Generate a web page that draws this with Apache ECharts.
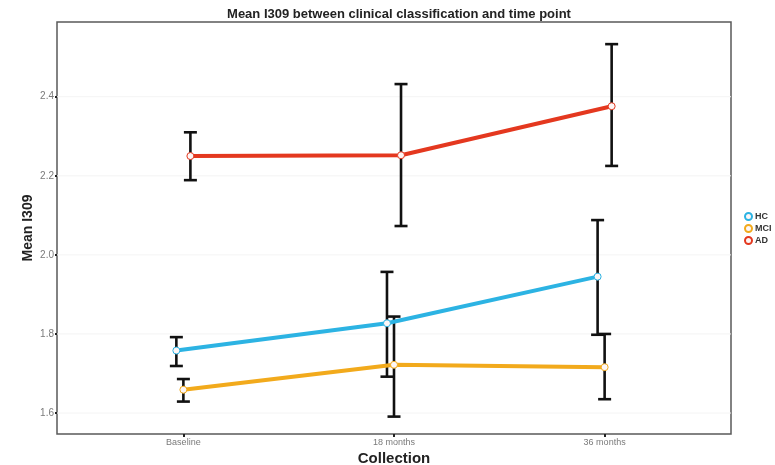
<!DOCTYPE html>
<html>
<head>
<meta charset="utf-8">
<script src="https://cdn.jsdelivr.net/npm/echarts@6/dist/echarts.min.js"></script>
<style>
  html, body { margin: 0; padding: 0; background: #fff; }
  #chart { width: 775px; height: 465px; }
</style>
</head>
<body>
<div id="chart"></div>
<script>
// Time points and clinical groups
const categories = ['Baseline', '18 months', '36 months'];
const groups = ['HC', 'MCI', 'AD'];

// Mean I309 with lower / upper error limits, per group and time point
const hcMean = [1.758, 1.827, 1.945];
const hcLow = [1.719, 1.692, 1.798];
const hcHigh = [1.792, 1.957, 2.088];

const mciMean = [1.659, 1.722, 1.716];
const mciLow = [1.629, 1.591, 1.635];
const mciHigh = [1.686, 1.844, 1.800];

const adMean = [2.250, 2.252, 2.376];
const adLow = [2.189, 2.073, 2.225];
const adHigh = [2.310, 2.432, 2.533];

// Y axis tick labels
const yTicks = [1.6, 1.8, 2.0, 2.2, 2.4];

const colors = { HC: '#2cb3e3', MCI: '#f2aa1c', AD: '#e4381f' };

// Groups are dodged side by side within each time point
const dodgeWidth = 0.1;
const dodge = { HC: -dodgeWidth / 3, MCI: 0, AD: dodgeWidth / 3 };

const stats = {
  HC: { mean: hcMean, low: hcLow, high: hcHigh },
  MCI: { mean: mciMean, low: mciLow, high: mciHigh },
  AD: { mean: adMean, low: adLow, high: adHigh }
};

const series = [];

// Faint horizontal guides at the y ticks
series.push({
  type: 'custom',
  name: 'guides',
  silent: true,
  z: 0,
  data: yTicks.map(v => [v]),
  renderItem: function (params, api) {
    const cs = params.coordSys;
    const p = api.coord([0, api.value(0)]);
    return {
      type: 'line',
      shape: { x1: cs.x, y1: p[1], x2: cs.x + cs.width, y2: p[1] },
      style: { stroke: '#f4f4f4', lineWidth: 1 }
    };
  },
  encode: { y: 0 }
});

// Error bars (drawn beneath the lines)
groups.forEach(g => {
  const s = stats[g];
  series.push({
    type: 'custom',
    name: g + ' error',
    z: 2,
    silent: true,
    data: categories.map((c, i) => [i + dodge[g], s.low[i], s.high[i]]),
    renderItem: function (params, api) {
      const x = api.value(0);
      const lo = api.coord([x, api.value(1)]);
      const hi = api.coord([x, api.value(2)]);
      const cap = 6.5;
      const style = { stroke: '#111', lineWidth: 2.6 };
      return {
        type: 'group',
        children: [
          { type: 'line', shape: { x1: lo[0], y1: lo[1], x2: hi[0], y2: hi[1] }, style: style },
          { type: 'line', shape: { x1: hi[0] - cap, y1: hi[1], x2: hi[0] + cap, y2: hi[1] }, style: style },
          { type: 'line', shape: { x1: lo[0] - cap, y1: lo[1], x2: lo[0] + cap, y2: lo[1] }, style: style }
        ]
      };
    }
  });
});

// Mean lines with points
groups.forEach(g => {
  const s = stats[g];
  series.push({
    type: 'line',
    name: g,
    z: 3,
    data: categories.map((c, i) => [i + dodge[g], s.mean[i]]),
    symbol: 'circle',
    symbolSize: 7,
    lineStyle: { color: colors[g], width: 4 },
    itemStyle: { color: '#fdf6f6', borderColor: colors[g], borderWidth: 1 },
    emphasis: { disabled: true }
  });
});

const chart = echarts.init(document.getElementById('chart'), null, { renderer: 'canvas' });
chart.setOption({
  animation: false,
  backgroundColor: '#ffffff',
  title: {
    text: 'Mean I309 between clinical classification and time point',
    left: 394,
    textAlign: 'center',
    top: 3,
    textStyle: { fontFamily: 'Liberation Sans', fontSize: 13, fontWeight: 'bold', color: '#222' }
  },
  legend: {
    data: groups,
    orient: 'vertical',
    left: 739,
    top: 207,
    icon: 'circle',
    itemWidth: 7,
    itemHeight: 7,
    itemGap: 3,
    textStyle: { fontFamily: 'Liberation Sans', fontSize: 9, fontWeight: 'bold', color: '#333', padding: [0, 0, 0, -2] }
  },
  grid: {
    left: 57,
    right: 44,
    top: 22,
    bottom: 31,
    outerBoundsMode: 'none',
    containLabel: false,
    show: true,
    borderColor: '#5a5a5a',
    borderWidth: 1.5,
    backgroundColor: '#fff'
  },
  xAxis: {
    type: 'value',
    min: -0.6,
    max: 2.6,
    name: 'Collection',
    nameLocation: 'middle',
    nameGap: 17,
    nameMoveOverlap: false,
    nameTextStyle: { fontFamily: 'Liberation Sans', fontSize: 15, fontWeight: 'bold', color: '#222' },
    axisLine: { show: false, onZero: false },
    splitLine: { show: false },
    axisTick: { show: true, customValues: [0, 1, 2], length: 3, lineStyle: { color: '#222', width: 2 } },
    axisLabel: {
      customValues: [0, 1, 2],
      formatter: v => categories[Math.round(v)],
      fontFamily: 'Liberation Sans',
      fontSize: 9,
      color: '#7a7a7a',
      margin: 4
    }
  },
  yAxis: {
    type: 'value',
    min: 1.547,
    max: 2.589,
    name: 'Mean I309',
    nameLocation: 'middle',
    nameGap: 22,
    nameMoveOverlap: false,
    nameRotate: 90,
    nameTextStyle: { fontFamily: 'Liberation Sans', fontSize: 14, fontWeight: 'bold', color: '#222' },
    axisLine: { show: false, onZero: false },
    splitLine: { show: false },
    axisTick: { show: true, customValues: yTicks, length: 2, lineStyle: { color: '#222', width: 2 } },
    axisLabel: {
      customValues: yTicks,
      formatter: v => v.toFixed(1),
      fontFamily: 'Liberation Sans',
      fontSize: 10,
      color: '#7a7a7a',
      margin: 3
    }
  },
  series: series
});
</script>
</body>
</html>
